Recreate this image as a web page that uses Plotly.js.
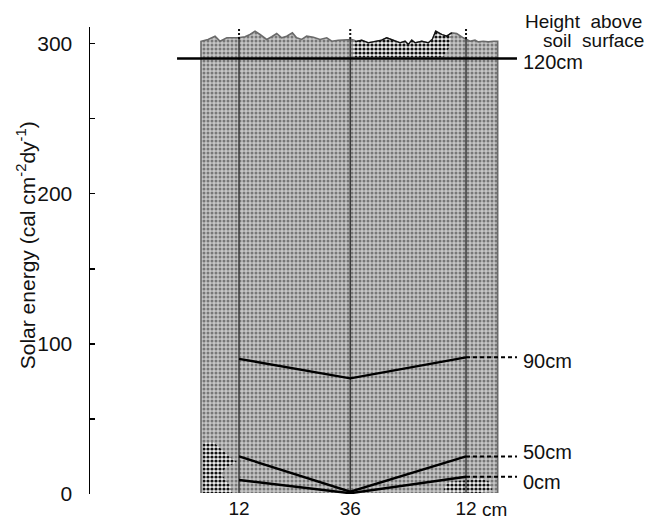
<!DOCTYPE html>
<html>
<head>
<meta charset="utf-8">
<script src="https://cdn.plot.ly/plotly-3.0.1.min.js"></script>
<style>
  html, body { margin: 0; padding: 0; background: #fff; }
  #chart { width: 660px; height: 519px; }
</style>
</head>
<body>
<div id="chart"></div>
<script>
// ---------- data ----------
const stationX = [0, 0.98, 2.0];
const stationLabels = ['12', '36', '12'];
const stationUnit = 'cm';

const heightNames = ['120cm', '90cm', '50cm', '0cm'];
const energy120 = [290, 290, 290];
const energy90 = [90, 77, 91];
const energy50 = [25, 1.5, 25];
const energy0 = [9.3, 0.5, 11.5];

// canopy profile (top of vegetation), solar-energy scale
const canopyX = [-0.335, -0.273, -0.211, -0.167, -0.108, -0.009, 0.053, 0.097, 0.141, 0.185, 0.244, 0.288, 0.332, 0.376, 0.420, 0.470, 0.508, 0.552, 0.596, 0.655, 0.714, 0.773, 0.817, 0.875, 0.934, 0.993, 1.037, 1.081, 1.139, 1.198, 1.257, 1.301, 1.359, 1.419, 1.463, 1.492, 1.522, 1.551, 1.610, 1.668, 1.703, 1.733, 1.786, 1.830, 1.874, 1.918, 1.976, 2.035, 2.079, 2.108, 2.152, 2.196, 2.241, 2.279];
const canopyY = [301.5, 302.7, 304.9, 301.5, 303.8, 303.8, 304.5, 306, 308.2, 306, 302.7, 304.5, 306.7, 303.8, 304.9, 307.1, 303.8, 302.7, 304.9, 304.2, 302.7, 303.8, 301.5, 302.2, 302.7, 302.7, 301.5, 302.2, 300.5, 301.5, 302.2, 303.8, 302.2, 300.5, 301.5, 299.3, 302.2, 300.5, 301.5, 300.5, 302.7, 308.2, 306, 304.9, 307.1, 306.7, 303.8, 301.5, 302.2, 301.1, 301.5, 301.1, 301.5, 301.5];
const groundLevel = 0.7;

// coarse-stipple patches
const patchLeftX = [-0.317, -0.229, -0.097, -0.018, -0.123, -0.150, -0.079, -0.062, -0.317];
const patchLeftY = [34, 34.7, 26, 21.3, 17.3, 12.7, 6, 0.7, 0.7];
const patchRightX = [1.797, 1.833, 2.035, 2.123, 2.211, 2.229, 2.123];
const patchRightY = [1.3, 8, 9.3, 10.7, 8, 2.7, 0.7];
const patchTopStart = 1.004, patchTopEnd = 1.85, patchTopBase = 291;

// ---------- geometry helpers ----------
const lineLeft = -0.546, lineRight = 2.449;
const dottedTop = 317, dottedBottom = 303;

const traces = [];

traces.push({
  type: 'scatter', mode: 'lines',
  x: [canopyX[0], ...canopyX, canopyX[canopyX.length - 1]],
  y: [groundLevel, ...canopyY, groundLevel],
  fill: 'toself',
  fillcolor: '#bdbdbd',
  fillpattern: { shape: '.', bgcolor: '#c6c6c6', fgcolor: '#777777', size: 4, solidity: 0.45 },
  line: { color: '#6a6a6a', width: 1.6 },
  hoverinfo: 'skip', showlegend: false, cliponaxis: false
});

const topSel = canopyX.map((x, i) => [x, canopyY[i]]).filter(p => p[0] >= patchTopStart && p[0] <= 1.88);
const topPX = [patchTopStart, patchTopStart, ...topSel.map(p => p[0]), patchTopEnd, 1.80];
const topPY = [patchTopBase, 302.2, ...topSel.map(p => p[1]), 297, patchTopBase];

const patchStyle = { shape: '.', bgcolor: '#eeeeee', fgcolor: '#111111', size: 4, solidity: 0.5 };
[[patchLeftX, patchLeftY], [patchRightX, patchRightY], [topPX, topPY]].forEach(([px, py]) => {
  traces.push({
    type: 'scatter', mode: 'lines', x: px, y: py,
    fill: 'toself', fillcolor: '#999', fillpattern: patchStyle,
    line: { width: 0, color: 'rgba(0,0,0,0)' },
    hoverinfo: 'skip', showlegend: false, cliponaxis: false
  });
});

traces.push({
  type: 'scatter', mode: 'lines',
  x: topSel.map(p => p[0]), y: topSel.map(p => p[1]),
  line: { color: '#111', width: 1.3 },
  hoverinfo: 'skip', showlegend: false, cliponaxis: false
});

const solidX = [], solidY = [], dotX = [], dotY = [];
stationX.forEach(s => {
  solidX.push(s, s, null); solidY.push(groundLevel, dottedBottom, null);
  dotX.push(s, s, null); dotY.push(dottedBottom, dottedTop, null);
});
traces.push({
  type: 'scatter', mode: 'lines', x: solidX, y: solidY,
  line: { color: '#3a3a3a', width: 1.5 },
  hoverinfo: 'skip', showlegend: false, cliponaxis: false
});
traces.push({
  type: 'scatter', mode: 'lines', x: dotX, y: dotY,
  line: { color: '#111', width: 2, dash: '2px,2px' },
  hoverinfo: 'skip', showlegend: false, cliponaxis: false
});

traces.push({
  type: 'scatter', mode: 'lines',
  x: [lineLeft, ...stationX, lineRight],
  y: [energy120[0], ...energy120, energy120[2]],
  line: { color: '#000', width: 2.4 },
  hoverinfo: 'skip', showlegend: false, cliponaxis: false
});

[energy90, energy50, energy0].forEach(vals => {
  traces.push({
    type: 'scatter', mode: 'lines', x: stationX, y: vals,
    line: { color: '#000', width: 2.4 },
    hoverinfo: 'skip', showlegend: false, cliponaxis: false
  });
  traces.push({
    type: 'scatter', mode: 'lines',
    x: [stationX[2], lineRight], y: [vals[2], vals[2]],
    line: { color: '#000', width: 2, dash: '4px,3px' },
    hoverinfo: 'skip', showlegend: false, cliponaxis: false
  });
});

// ---------- annotations ----------
const font = 'Liberation Sans, Arial, sans-serif';
const labelShift = [-3, -4, 4, -5];
const seriesLast = [energy120[2], energy90[2], energy50[2], energy0[2]];
const annotations = heightNames.map((t, i) => ({
  x: lineRight, y: seriesLast[i], xref: 'x', yref: 'y',
  text: t, showarrow: false, xanchor: 'left', yanchor: 'middle',
  xshift: 4, yshift: labelShift[i],
  font: { family: font, size: 20, color: '#111' }
}));
annotations.push({
  x: 1, y: 1, xref: 'paper', yref: 'paper', text: 'Height  above',
  showarrow: false, xanchor: 'right', yanchor: 'middle', xshift: -6, yshift: 6,
  font: { family: font, size: 19, color: '#111' }
});
annotations.push({
  x: 1, y: 1, xref: 'paper', yref: 'paper', text: 'soil  surface',
  showarrow: false, xanchor: 'right', yanchor: 'middle', xshift: -4, yshift: -13,
  font: { family: font, size: 19, color: '#111' }
});
annotations.push({
  x: stationX[2], y: 0, xref: 'x', yref: 'paper', text: stationUnit,
  showarrow: false, xanchor: 'left', yanchor: 'middle', xshift: 14, yshift: -15,
  font: { family: font, size: 19, color: '#111' }
});
annotations.push({
  x: -0.114, y: 0.533, xref: 'paper', yref: 'paper',
  text: 'Solar energy (cal cm<sup>-2</sup>dy<sup>-1</sup>)',
  textangle: -90, showarrow: false, xanchor: 'center', yanchor: 'middle',
  font: { family: font, size: 21, color: '#111' }
});

const layout = {
  width: 660, height: 519,
  margin: { l: 90, r: 10, t: 27, b: 25 },
  paper_bgcolor: '#fff', plot_bgcolor: '#fff',
  showlegend: false,
  xaxis: {
    range: [-1.313, 3.621], showgrid: false, zeroline: false, showline: false,
    tickvals: stationX, ticktext: stationLabels, ticks: '',
    ticklabelstandoff: 1,
    tickfont: { family: font, size: 19, color: '#111' }, fixedrange: true
  },
  yaxis: {
    range: [0, 311], showgrid: false, zeroline: false,
    showline: true, linecolor: '#000', linewidth: 1.5,
    tickvals: [0, 100, 200, 300], ticks: 'inside', ticklen: 5, tickwidth: 1.5, tickcolor: '#000',
    minor: { tickvals: [50, 150, 250], ticks: 'inside', ticklen: 5, tickwidth: 1.5, tickcolor: '#000' },
    ticklabelstandoff: 12,
    tickfont: { family: font, size: 21, color: '#111' }, fixedrange: true
  },
  annotations: annotations
};

Plotly.newPlot('chart', traces, layout, { staticPlot: true, displayModeBar: false });
</script>
</body>
</html>
